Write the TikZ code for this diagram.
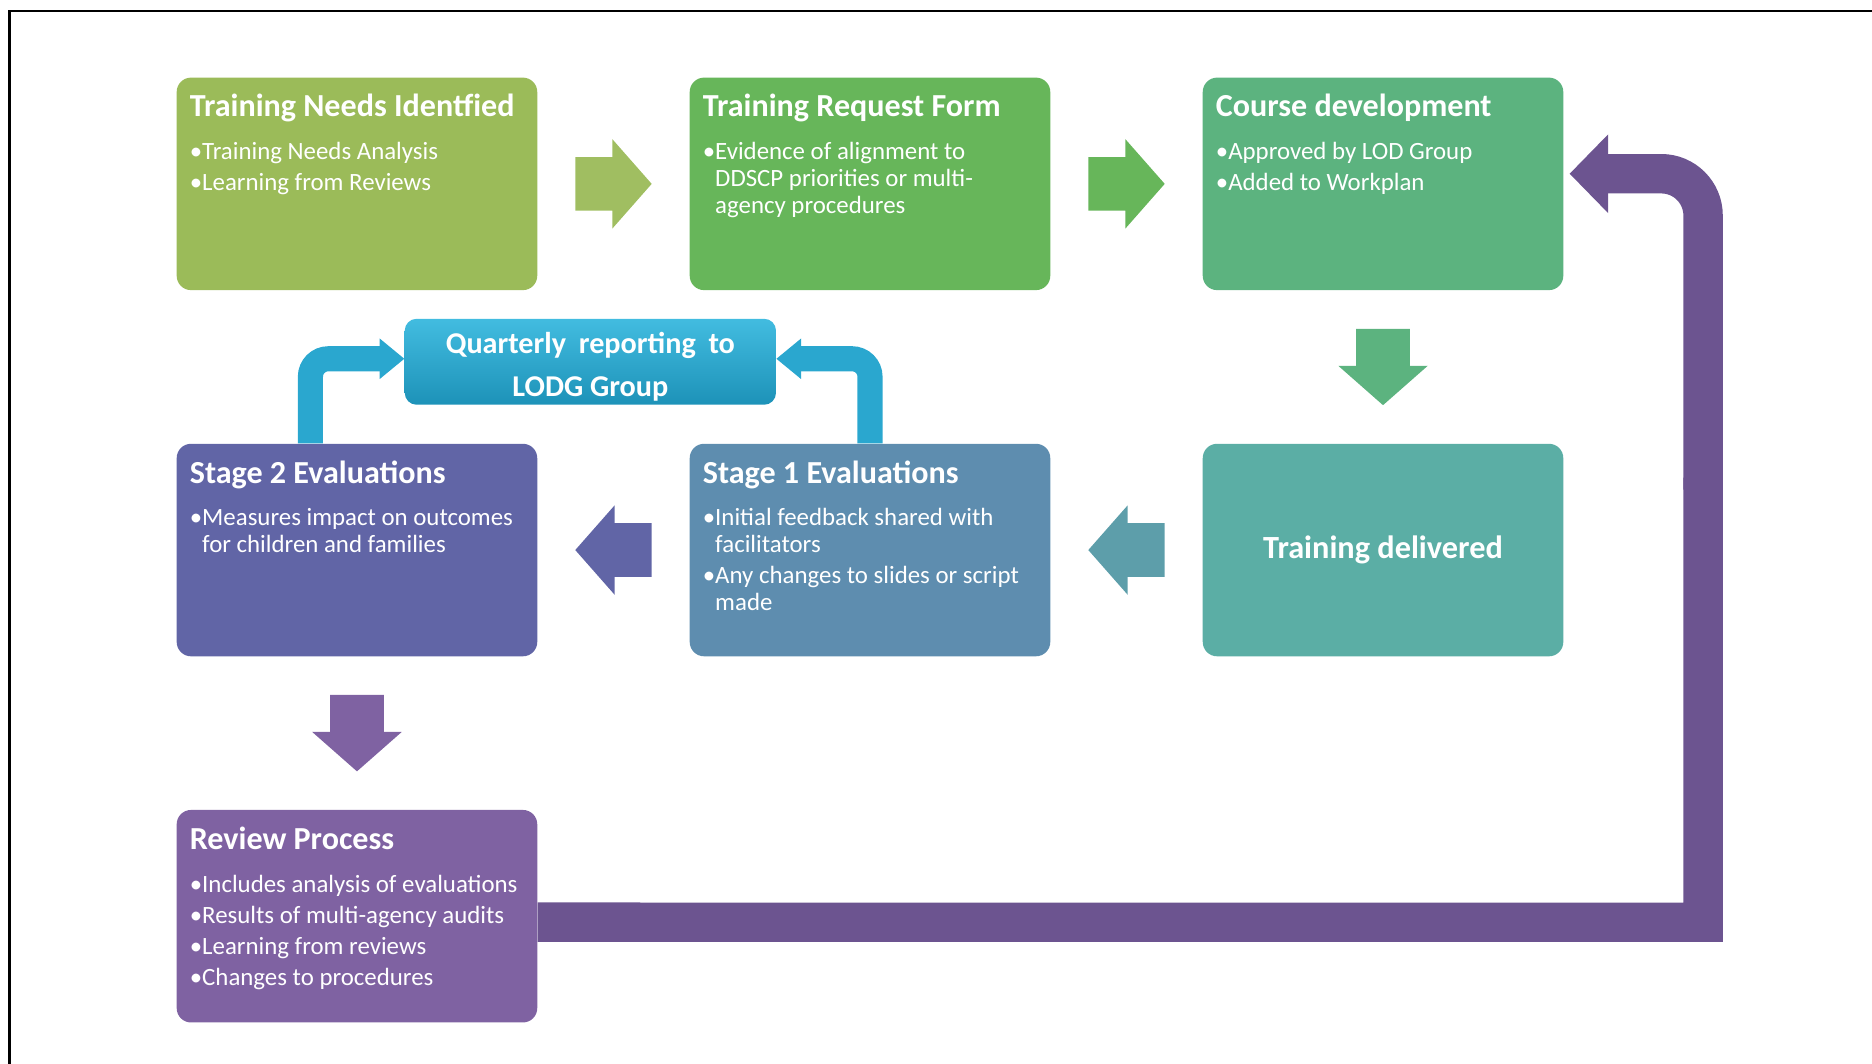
\documentclass[tikz,border=0pt]{standalone}
\usepackage{fontspec}
\setmainfont{Carlito}
\usepackage{tikz}
\usetikzlibrary{positioning,calc}

\definecolor{tniGreen}{HTML}{9BBB59}
\definecolor{trfGreen}{HTML}{67B65A}
\definecolor{cdevGreen}{HTML}{5CB37F}
\definecolor{tdelTeal}{HTML}{5BAEA5}
\definecolor{evalOneBlue}{HTML}{5E8DAF}
\definecolor{evalTwoIndigo}{HTML}{6165A6}
\definecolor{reviewPurple}{HTML}{7F62A2}
\definecolor{loopPurple}{HTML}{6C5490}
\definecolor{qrTop}{HTML}{42BCE0}
\definecolor{qrBottom}{HTML}{1D92B8}
\definecolor{qrArrow}{HTML}{2AA7CF}

\newlength\bulwd
\newcommand{\bul}{\par\hangindent=\bulwd\hangafter=1\noindent•}
\newcommand{\stagetext}[2]{%
  \parbox[c][30mm][t]{56mm}{\raggedright
    {\fontsize{15.3}{18}\selectfont\bfseries #1\par}%
    \fontsize{11.85}{12.8}\selectfont\settowidth{\bulwd}{•}%
    \setlength{\parskip}{2pt}\vspace{5.6pt}#2}}
\newcommand{\fatarrow}[3]{%
  \fill[#1, shift={#2}, rotate=#3] (-32,-22.5) -- (-1,-22.5) -- (-1,-37.5) -- (32,0)
    -- (-1,37.5) -- (-1,22.5) -- (-32,22.5) -- cycle;}

\begin{document}
\begin{tikzpicture}[x=0.2mm, y=-0.2mm, node distance=25.6mm and 25.4mm,
  stage/.style={rounded corners=2.4mm, minimum width=60.4mm, minimum height=35.6mm,
    inner sep=0pt, text=white},
  qrbox/.style={rounded corners=2mm, minimum width=62.2mm, minimum height=14.4mm,
    inner sep=0pt, top color=qrTop, bottom color=qrBottom, text=white, align=center,
    font=\fontsize{14.4}{20.4}\selectfont\bfseries},
  loopline/.style={draw=loopPurple, line width=6.6mm},
  qrline/.style={draw=qrArrow, line width=4.2mm, rounded corners=3mm}]
\useasboundingbox (0,0) rectangle (1568,891);
\draw[line width=0.4mm] (8,891) -- (8,9) -- (1568,9);
%
\node[stage, fill=tniGreen] (tni) at (299,154)
  {\stagetext{Training Needs Identfied}{\bul Training Needs Analysis\bul Learning from Reviews}};
\node[stage, fill=trfGreen, right=of tni] (trf)
  {\stagetext{Training Request Form}{\bul Evidence of alignment to\newline DDSCP priorities or multi-\newline agency procedures}};
\node[stage, fill=cdevGreen, right=of trf] (cdev)
  {\stagetext{Course development}{\bul Approved by LOD Group\bul Added to Workplan}};
\node[stage, fill=tdelTeal, below=of cdev, font=\fontsize{15.4}{18}\selectfont\bfseries] (tdel)
  {Training delivered};
\node[stage, fill=evalOneBlue, left=of tdel] (evalone)
  {\stagetext{Stage 1 Evaluations}{\bul Initial feedback shared with\newline facilitators\bul Any changes to slides or script\newline made}};
\node[stage, fill=evalTwoIndigo, left=of evalone] (evaltwo)
  {\stagetext{Stage 2 Evaluations}{\bul Measures impact on outcomes\newline for children and families}};
\node[stage, fill=reviewPurple, below=of evaltwo] (review)
  {\stagetext{Review Process}{\bul Includes analysis of evaluations\bul Results of multi-agency audits\bul Learning from reviews\bul Changes to procedures}};
\node[qrbox] (qr) at (494.5,303)
  {\rule{0pt}{15pt}Quarterly\hspace{0.42em}reporting\hspace{0.42em}to\\LODG Group};
%
\fatarrow{tniGreen!95!white}{($(tni.east)!0.5!(trf.west)$)}{0}
\fatarrow{trfGreen}{($(trf.east)!0.5!(cdev.west)$)}{0}
\fatarrow{cdevGreen}{($(cdev.south)!0.5!(tdel.north)$)}{-90}
\fatarrow{tdelTeal!50!evalOneBlue}{($(tdel.west)!0.5!(evalone.east)$)}{180}
\fatarrow{evalTwoIndigo}{($(evalone.west)!0.5!(evaltwo.east)$)}{180}
\fatarrow{reviewPurple}{($(evaltwo.south)!0.5!(review.north)$)}{-90}
%
\coordinate (qrleft) at ($(evaltwo.north)+(-39,0)$);
\coordinate (qrright) at ($(evalone.north)+(0,0)$);
\draw[qrline] (qrleft) -- (qrleft |- 0,300.5) -- (320,300.5);
\fill[qrArrow] (318,283.5) -- (qr.west |- 0,300.5) -- (318,317.5) -- cycle;
\draw[qrline] (qrright) -- (qrright |- 0,300.5) -- (669,300.5);
\fill[qrArrow] (671,283.5) -- (qr.east |- 0,300.5) -- (671,317.5) -- cycle;
%
\coordinate (loopstart) at ($(review.east)+(0,5)$);
\coordinate (loopcorner) at (1426.5,772.5);
\coordinate (looptop) at (1426.5,145.5);
\draw[loopline] (loopstart) -- (loopcorner) -- (1426.5,400);
\draw[loopline, rounded corners=7mm] (1426.5,410) -- (looptop) -- (1345,145.5);
\fill[loopPurple] (1347,112.5) -- ($(cdev.east)+(5,-8.5)$) -- (1347,178.5) -- cycle;
\end{tikzpicture}
\end{document}
